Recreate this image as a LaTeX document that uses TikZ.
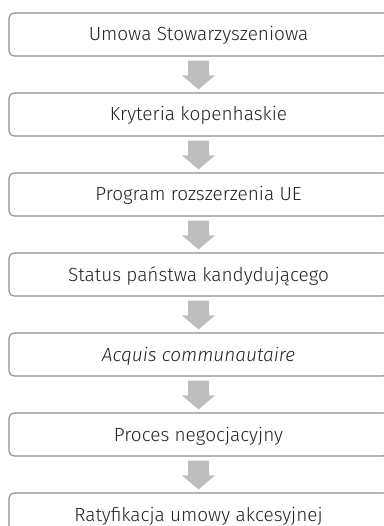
\documentclass[tikz,border=0pt]{standalone}
\usepackage{fontspec}
\setmainfont{Fira Sans}[UprightFont=* Light, ItalicFont=* Light Italic]
\usetikzlibrary{calc}
\definecolor{boxline}{RGB}{140,140,140}
\definecolor{arrowfill}{RGB}{190,190,190}
\definecolor{txt}{RGB}{35,35,35}
\begin{document}
\begin{tikzpicture}[x=1pt,y=1pt,
  stagebox/.style={draw=boxline, line width=1.1pt, rounded corners=5pt, fill=white,
    minimum width=379pt, minimum height=43pt, inner sep=0pt, text=txt,
    text height=13pt, text depth=0pt,
    font=\fontsize{19}{21}\selectfont},
  flowarrow/.style={fill=arrowfill, draw=none}]
\useasboundingbox (0,0) rectangle (383,-526);
\node[stagebox] (b1) at (198.5,-34.5) {Umowa Stowarzyszeniowa};
\node[stagebox] (b2) at (198.5,-114.5) {Kryteria kopenhaskie};
\node[stagebox] (b3) at (198.5,-194.5) {Program rozszerzenia UE};
\node[stagebox] (b4) at (198.5,-274.5) {Status państwa kandydującego};
\node[stagebox] (b5) at (198.5,-354.5) {\itshape Acquis communautaire};
\node[stagebox] (b6) at (198.5,-434.5) {Proces negocjacyjny};
\node[stagebox] (b7) at (198.5,-514.5) {Ratyfikacja umowy akcesyjnej};
\foreach \a/\b in {b1/b2,b2/b3,b3/b4,b4/b5,b5/b6,b6/b7}{
  \fill[flowarrow] ($(\a.south)+(-10.5,-4)$) -- ($(\a.south)+(10.5,-4)$)
    -- ($(\b.north)+(10.5,17)$) -- ($(\b.north)+(16.5,17)$)
    -- ($(\b.north)+(0,3)$) -- ($(\b.north)+(-16.5,17)$)
    -- ($(\b.north)+(-10.5,17)$) -- cycle;
}
\end{tikzpicture}
\end{document}
